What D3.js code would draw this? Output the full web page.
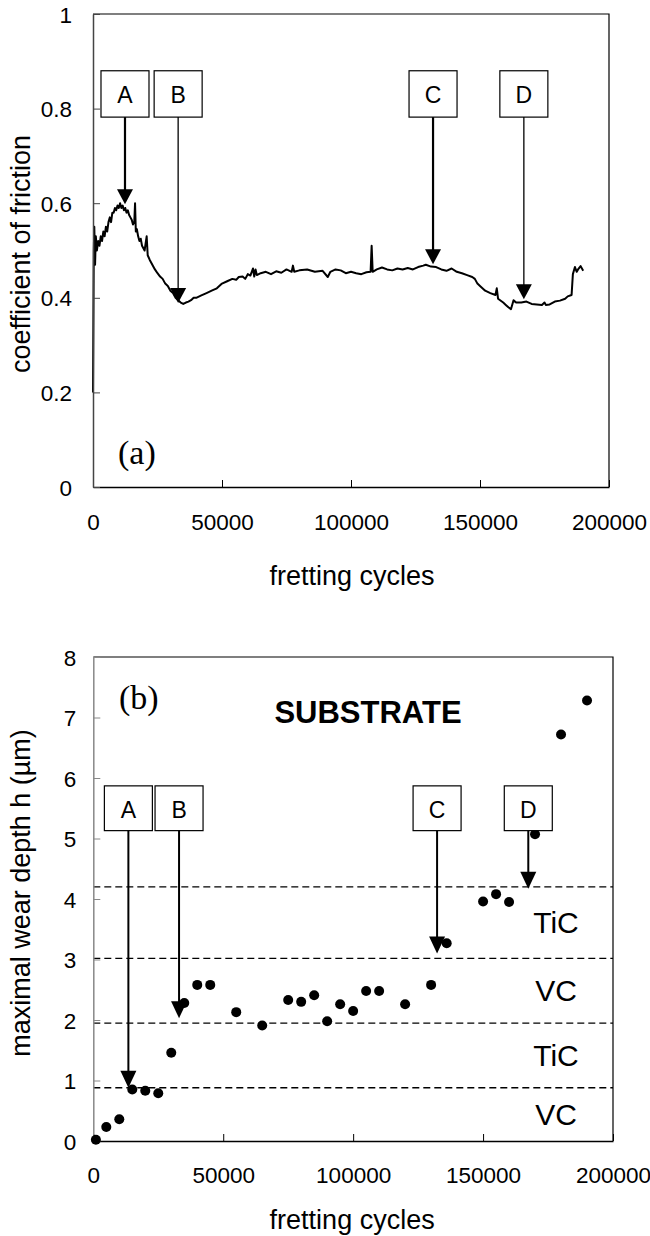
<!DOCTYPE html>
<html>
<head>
<meta charset="utf-8">
<script src="https://cdn.jsdelivr.net/npm/d3@7"></script>
<style>
  html, body { margin: 0; padding: 0; background: #fff; }
  svg { display: block; }
  text { font-family: "Liberation Sans", Arial, sans-serif; fill: #000; }
</style>
</head>
<body>
<svg id="chart" width="650" height="1236"></svg>
<script>
// ---------- DATA ----------
// (a) coefficient of friction vs fretting cycles
const frictionCycles = [
  0, 300, 500, 800, 1100, 1500, 2000, 2500, 3000, 3500, 4000, 4500, 5000, 5500, 6000, 6500,
  7000, 7500, 8000, 8500, 9000, 9500, 10000, 10500, 11000, 11500, 12000, 12500, 13000, 13500,
  14000, 14500, 15000, 15500, 16000, 16300, 16600, 17000, 17500, 18000, 18500, 19000, 20000,
  20800, 21200, 22000, 23000, 24000, 25000, 26000, 27000, 28000, 29000, 30000, 31000, 32000,
  33000, 34000, 35000, 36000, 37000, 38000, 39000, 40000, 42000, 44000, 46000, 48000, 50000,
  52000, 54000, 55500, 56500, 58000, 59000, 60000, 61000, 62000, 62500, 63000, 63500, 65000,
  67000, 69000, 71000, 73000, 75000, 77000, 77500, 78000, 80000, 83000, 86000, 89000, 91000,
  92000, 94000, 96000, 98000, 100000, 102000, 104000, 106000, 107600, 108000, 108400, 110000,
  112000, 114000, 116000, 118000, 120000, 122000, 124000, 126000, 128000, 129000, 131000,
  133000, 135000, 137000, 139000, 141000, 143000, 145000, 147000, 148000, 149000, 150000,
  152000, 154000, 156000, 156500, 157000, 159000, 160000, 161000, 162000, 163000, 164000,
  166000, 168000, 170000, 172000, 174000, 175000, 175500, 177000, 179000, 181000, 183000,
  184000, 185500, 186000, 186800, 187500, 188000, 189000, 190000
];
const frictionValues = [
  0.20, 0.50, 0.55, 0.47, 0.53, 0.50, 0.52, 0.51, 0.53, 0.52, 0.54, 0.53, 0.55, 0.54, 0.56, 0.57,
  0.56, 0.58, 0.58, 0.59, 0.585, 0.595, 0.59, 0.60, 0.59, 0.595, 0.585, 0.59, 0.58, 0.585,
  0.575, 0.57, 0.565, 0.555, 0.56, 0.60, 0.54, 0.545, 0.53, 0.52, 0.525, 0.51, 0.50,
  0.53, 0.49, 0.48, 0.47, 0.46, 0.452, 0.445, 0.44, 0.43, 0.425, 0.415, 0.41, 0.40,
  0.395, 0.39, 0.387, 0.39, 0.392, 0.395, 0.40, 0.40, 0.405, 0.41, 0.415, 0.42, 0.43,
  0.435, 0.44, 0.438, 0.444, 0.445, 0.44, 0.45, 0.447, 0.462, 0.445, 0.46, 0.448, 0.452,
  0.455, 0.45, 0.456, 0.453, 0.46, 0.455, 0.468, 0.455, 0.458, 0.46, 0.455, 0.457, 0.444,
  0.455, 0.46, 0.458, 0.452, 0.455, 0.452, 0.45, 0.454, 0.455, 0.51, 0.455, 0.46,
  0.464, 0.46, 0.458, 0.462, 0.46, 0.463, 0.46, 0.465, 0.468, 0.47, 0.466,
  0.465, 0.46, 0.457, 0.462, 0.455, 0.452, 0.448, 0.444, 0.44, 0.43, 0.425,
  0.415, 0.41, 0.406, 0.42, 0.398, 0.39, 0.385, 0.38, 0.376, 0.395, 0.39,
  0.39, 0.392, 0.387, 0.386, 0.385, 0.39, 0.385, 0.386, 0.392, 0.394, 0.398,
  0.403, 0.406, 0.45, 0.465, 0.455, 0.46, 0.467, 0.457
];

// (b) maximal wear depth vs fretting cycles
const wearCycles = [
  1000, 5000, 10000, 15000, 20000, 25000, 30000, 35000, 40000, 45000, 55000, 65000, 75000,
  80000, 85000, 90000, 95000, 100000, 105000, 110000, 120000, 130000, 136000, 150000, 155000,
  160000, 170000, 180000, 190000
];
const wearDepth = [
  0.02, 0.23, 0.36, 0.85, 0.83, 0.79, 1.46, 2.28, 2.58, 2.58, 2.13, 1.91, 2.33,
  2.30, 2.41, 1.98, 2.26, 2.15, 2.48, 2.48, 2.26, 2.58, 3.27, 3.96, 4.08,
  3.95, 5.07, 6.72, 7.28
];

// layer boundaries (µm) and names of layers between them (bottom to top)
const layerBounds = [0.88, 1.95, 3.02, 4.2];
const layerNames = ["VC", "TiC", "VC", "TiC"];

// annotations
const markLabels = ["A", "B", "C", "D"];
const markCyclesA = [12400, 33000, 131800, 167000];
const markTipA = [0.598, 0.389, 0.471, 0.397];
const markCyclesB = [13500, 33000, 132300, 167400];
const markTipB = [0.88, 2.03, 3.10, 4.17];

// ticks
const xTicks = [0, 50000, 100000, 150000, 200000];
const yTicksA = [0, 0.2, 0.4, 0.6, 0.8, 1];
const yTicksB = [0, 1, 2, 3, 4, 5, 6, 7, 8];

// ---------- DRAW ----------
const svg = d3.select("#chart");

function drawAxes(g, x, y, yTicks, opts) {
  const [x0, x1] = x.range();
  const [y0, y1] = y.range();
  g.append("path")
    .attr("d", `M${x0},${y1}H${x1}V${y0}`)
    .attr("fill", "none").attr("stroke", "#000").attr("stroke-width", 1.2);

  const xa = g.append("g").attr("transform", `translate(0,${y0})`)
    .call(d3.axisBottom(x).tickValues(xTicks).tickFormat(d => String(d))
      .tickSizeInner(-7).tickSizeOuter(0));
  xa.select(".domain").attr("stroke", "#000").attr("stroke-width", 1.5);
  xa.selectAll(".tick line").attr("stroke", "#000").attr("stroke-width", 1);
  xa.selectAll(".tick text").attr("y", opts.xLabelDy).attr("dy", 0)
    .style("font-size", "22.5px");

  const ya = g.append("g").attr("transform", `translate(${x0},0)`)
    .call(d3.axisLeft(y).tickValues(yTicks).tickFormat(d => String(d))
      .tickSizeInner(-7).tickSizeOuter(0));
  ya.select(".domain").attr("stroke", opts.yAxisColor).attr("stroke-width", 1.5);
  ya.selectAll(".tick line").attr("stroke", opts.yAxisColor).attr("stroke-width", 1);
  ya.selectAll(".tick text").attr("x", -opts.yLabelGap).attr("dy", "0.36em")
    .attr("text-anchor", "end").style("font-size", "22.5px");
}

function drawMarks(g, x, y, cycles, tips, boxTop, boxBottom, widths, headH) {
  markLabels.forEach((lab, i) => {
    const cx = x(cycles[i]);
    const bt = y(boxTop), bb = y(boxBottom);
    const tipY = y(tips[i]);
    g.append("rect").attr("x", cx - 24).attr("y", bt).attr("width", 48).attr("height", bb - bt)
      .attr("fill", "#fff").attr("stroke", "#000").attr("stroke-width", 1.2);
    g.append("text").attr("x", cx).attr("y", bt + 32).attr("text-anchor", "middle")
      .style("font-size", "23px").text(lab);
    g.append("line").attr("x1", cx).attr("x2", cx).attr("y1", bb).attr("y2", tipY - headH + 2)
      .attr("stroke", "#000").attr("stroke-width", widths[i]);
    g.append("path").attr("d", `M${cx - 8},${tipY - headH}L${cx + 8},${tipY - headH}L${cx},${tipY}Z`)
      .attr("fill", "#000");
  });
}

// ----- chart (a) -----
{
  const g = svg.append("g");
  const x = d3.scaleLinear().domain([0, 200000]).range([93, 609]);
  const y = d3.scaleLinear().domain([0, 1]).range([487, 14]);

  const line = d3.line().x(d => x(d[0])).y(d => y(d[1]));
  const pts = frictionCycles.map((c, i) => [c, frictionValues[i]]);
  g.append("path").datum(pts).attr("d", line)
    .attr("fill", "none").attr("stroke", "#000").attr("stroke-width", 2)
    .attr("stroke-linejoin", "round");

  drawAxes(g, x, y, yTicksA, { xLabelDy: 43, yLabelGap: 21, yAxisColor: "#444" });
  drawMarks(g, x, y, markCyclesA, markTipA, 0.88, 0.782, [2.2, 1.3, 2.2, 1.3], 15);

  g.append("text").attr("x", 118).attr("y", 464)
    .style("font-family", "'Liberation Serif', 'Times New Roman', serif").style("font-size", "34px")
    .text("(a)");

  g.append("text").attr("x", (x.range()[0] + x.range()[1]) / 2 + 1).attr("y", 585)
    .attr("text-anchor", "middle").style("font-size", "27px").text("fretting cycles");
  g.append("text").attr("transform", `translate(30,254) rotate(-90)`)
    .attr("text-anchor", "middle").style("font-size", "27px").text("coefficient of friction");
}

// ----- chart (b) -----
{
  const g = svg.append("g");
  const x = d3.scaleLinear().domain([0, 200000]).range([93.3, 613]);
  const y = d3.scaleLinear().domain([0, 8]).range([1141, 657]);
  const [x0, x1] = x.range();

  g.selectAll(".bound").data(layerBounds).enter().append("line")
    .attr("x1", x0).attr("x2", x1).attr("y1", d => y(d)).attr("y2", d => y(d))
    .attr("stroke", "#000").attr("stroke-width", 1.3).attr("stroke-dasharray", "7,4");

  const mids = [0].concat(layerBounds).map((b, i, arr) => (b + (i < arr.length - 1 ? arr[i + 1] : b)) / 2).slice(0, 4);
  g.selectAll(".layer").data(layerNames).enter().append("text")
    .attr("x", 556).attr("y", (d, i) => y(mids[i])).attr("dy", "0.36em")
    .attr("text-anchor", "middle").style("font-size", "30px").text(d => d);

  drawAxes(g, x, y, yTicksB, { xLabelDy: 42, yLabelGap: 17, yAxisColor: "#888" });

  g.selectAll(".dot").data(wearCycles).enter().append("circle")
    .attr("cx", d => x(d)).attr("cy", (d, i) => y(wearDepth[i])).attr("r", 5)
    .attr("fill", "#000");

  drawMarks(g, x, y, markCyclesB, markTipB, 5.87, 5.13, [2, 2, 2, 2], 17);

  g.append("text").attr("x", 119).attr("y", 709)
    .style("font-family", "'Liberation Serif', 'Times New Roman', serif").style("font-size", "34px")
    .text("(b)");
  g.append("text").attr("x", 368).attr("y", 723).attr("text-anchor", "middle")
    .style("font-size", "31px").style("font-weight", "bold").text("SUBSTRATE");

  g.append("text").attr("x", (x0 + x1) / 2 - 1).attr("y", 1229)
    .attr("text-anchor", "middle").style("font-size", "27px").text("fretting cycles");
  g.append("text").attr("transform", `translate(30,893) rotate(-90)`)
    .attr("text-anchor", "middle").style("font-size", "27px").text("maximal wear depth h (µm)");
}
</script>
</body>
</html>
